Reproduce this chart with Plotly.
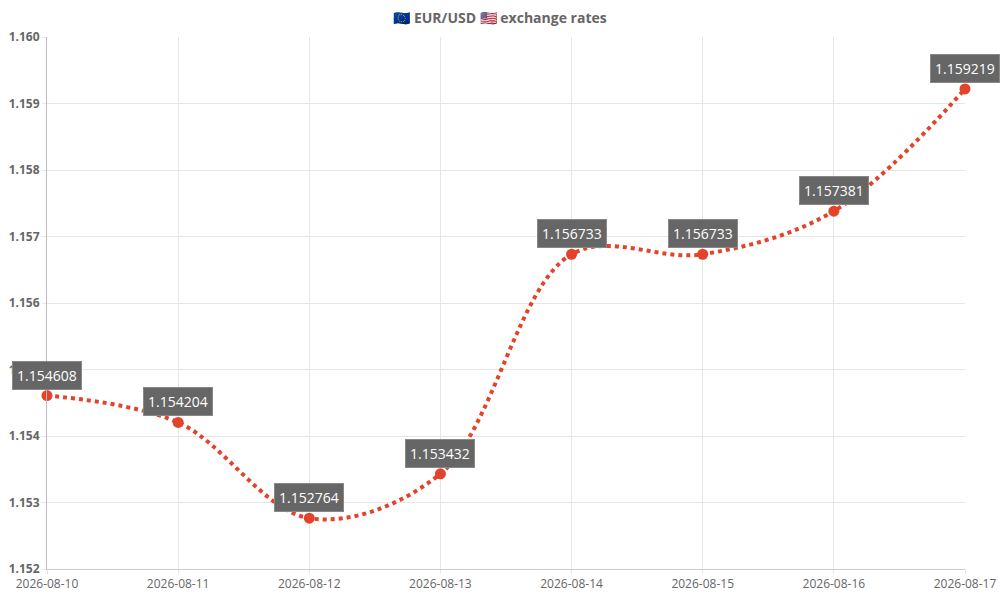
import plotly.graph_objects as go

dates = ['2026-08-10', '2026-08-11', '2026-08-12', '2026-08-13',
         '2026-08-14', '2026-08-15', '2026-08-16', '2026-08-17']
rates = [1.154608, 1.154204, 1.152764, 1.153432,
         1.156733, 1.156733, 1.157381, 1.159219]

red = '#e2432a'
grey = '#666666'

fig = go.Figure()

fig.add_trace(go.Scatter(
    x=dates,
    y=rates,
    mode='lines+markers',
    line=dict(color=red, width=4, dash='dot', shape='spline', smoothing=1),
    marker=dict(color=red, size=11),
    cliponaxis=False,
    hoverinfo='x+y',
))

# value labels above each point
for d, r in zip(dates, rates):
    fig.add_annotation(
        x=d, y=r, text=f'{r:.6f}',
        showarrow=False, yanchor='bottom', yshift=6,
        font=dict(color='white', size=14, family='Open Sans'),
        bgcolor=grey, bordercolor='#888888', borderwidth=1, borderpad=4,
    )

fig.update_layout(
    width=1000, height=600,
    margin=dict(l=47, r=35, t=37, b=31),
    paper_bgcolor='white', plot_bgcolor='white',
    font=dict(family='Open Sans', color=grey, size=12),
    showlegend=False,
    title=dict(text='<b>🇪🇺 EUR/USD 🇺🇸 exchange rates</b>', x=0.5, y=0.97,
               xanchor='center', yanchor='middle',
               font=dict(size=14, color=grey)),
    xaxis=dict(
        type='category', range=[0, 7], automargin=False,
        showgrid=True, gridcolor='#e6e6e6', gridwidth=1,
        showline=True, linecolor='#cccccc',
        ticks='outside', ticklen=4, tickcolor='#e6e6e6',
        tickfont=dict(size=12, color=grey),
    ),
    yaxis=dict(
        range=[1.152, 1.160], dtick=0.001, tickformat='.3f', automargin=False,
        showgrid=True, gridcolor='#e6e6e6', gridwidth=1,
        showline=True, linecolor='#bbbbbb', zeroline=False,
        ticks='outside', ticklen=4, tickcolor='#e6e6e6',
        tickfont=dict(size=12, color=grey, family='Open Sans'),
        tickprefix='<b>', ticksuffix='</b>',
    ),
)

fig.write_html('out.html', config={'displayModeBar': False},
               post_script="document.body.style.margin='0';")
